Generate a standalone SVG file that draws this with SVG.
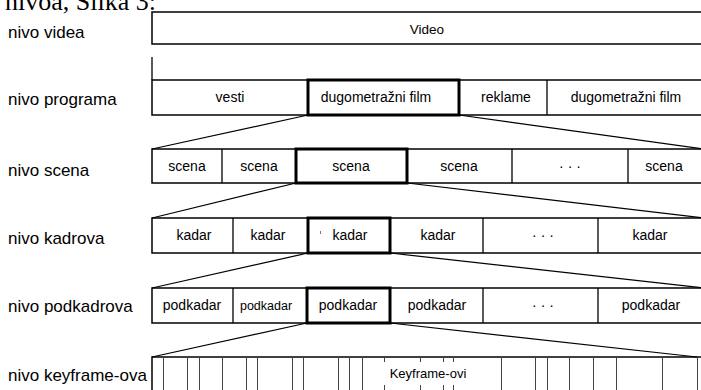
<svg xmlns="http://www.w3.org/2000/svg" width="701" height="390" viewBox="0 0 701 390">
<style>
.lbl{font-family:"Liberation Sans",Arial,sans-serif;font-size:17px;fill:#000}
.cell{font-family:"Liberation Sans",Arial,sans-serif;font-size:14px;fill:#000;text-anchor:middle}
.box{fill:#fff;stroke:#000;stroke-width:1.5}
.div{stroke:#000;stroke-width:1.3}
.thick{fill:none;stroke:#000;stroke-width:3}
.con{stroke:#000;stroke-width:1.2;fill:none}
.kf{stroke:#444;stroke-width:1}
</style>
<rect width="701" height="390" fill="#fff"/>
<text x="5" y="9.5" style="font-family:'Liberation Serif','Times New Roman',serif;font-size:26px">nivoa, Slika 3:</text>

<g id="labels">
<text class="lbl" x="8" y="38">nivo videa</text>
<text class="lbl" x="8" y="105">nivo programa</text>
<text class="lbl" x="8" y="176">nivo scena</text>
<text class="lbl" x="8" y="244">nivo kadrova</text>
<text class="lbl" x="8" y="312">nivo podkadrova</text>
<text class="lbl" x="8" y="381">nivo keyframe-ova</text>
</g>

<g id="video">
<rect class="box" x="152" y="12" width="556" height="32"/>
<text class="cell" x="427" y="34" style="font-size:13.5px">Video</text>
</g>

<g id="programa">
<line class="div" x1="152" y1="57" x2="152" y2="80"/>
<rect class="box" x="152" y="80" width="556" height="35"/>
<line class="div" x1="547" y1="80" x2="547" y2="115"/>
<rect class="thick" x="308" y="80" width="151" height="35"/>
<text class="cell" x="230" y="102">vesti</text>
<text class="cell" x="376" y="102">dugometražni film</text>
<text class="cell" x="506" y="102">reklame</text>
<text class="cell" x="626" y="102">dugometražni film</text>
</g>

<g id="scena">
<rect class="box" x="152" y="149" width="556" height="34"/>
<line class="div" x1="222" y1="149" x2="222" y2="183"/>
<line class="div" x1="512" y1="149" x2="512" y2="183"/>
<line class="div" x1="628" y1="149" x2="628" y2="183"/>
<rect class="thick" x="296" y="149" width="111" height="34"/>
<text class="cell" x="187" y="171">scena</text>
<text class="cell" x="259" y="171">scena</text>
<text class="cell" x="351" y="171">scena</text>
<text class="cell" x="459" y="171">scena</text>
<text class="cell" x="570" y="171">· · ·</text>
<text class="cell" x="664" y="171">scena</text>
</g>

<g id="kadrovi">
<rect class="box" x="152" y="218" width="556" height="35"/>
<line class="div" x1="233" y1="218" x2="233" y2="253"/>
<line class="div" x1="483" y1="218" x2="483" y2="253"/>
<line class="div" x1="598" y1="218" x2="598" y2="253"/>
<rect class="thick" x="308" y="218" width="82" height="35"/>
<line stroke="#777" stroke-width="1" x1="320.5" y1="231" x2="320.5" y2="234"/>
<text class="cell" x="194" y="240">kadar</text>
<text class="cell" x="268" y="240">kadar</text>
<text class="cell" x="350" y="240">kadar</text>
<text class="cell" x="438" y="240">kadar</text>
<text class="cell" x="543" y="240">· · ·</text>
<text class="cell" x="650" y="240">kadar</text>
</g>

<g id="podkadrovi">
<rect class="box" x="152" y="288" width="556" height="35"/>
<line class="div" x1="233" y1="288" x2="233" y2="323"/>
<line class="div" x1="483" y1="288" x2="483" y2="323"/>
<line class="div" x1="598" y1="288" x2="598" y2="323"/>
<rect class="thick" x="307" y="288" width="83" height="35"/>
<text class="cell" x="192" y="310">podkadar</text>
<text class="cell" x="266" y="310" style="font-size:12.5px">podkadar</text>
<text class="cell" x="348" y="310">podkadar</text>
<text class="cell" x="437" y="310">podkadar</text>
<text class="cell" x="543" y="310">· · ·</text>
<text class="cell" x="651" y="310">podkadar</text>
</g>

<g id="keyframes">
<rect class="box" x="152" y="357" width="556" height="40"/>
<g class="kf">
<line x1="163.5" y1="357" x2="163.5" y2="390"/>
<line x1="187.5" y1="357" x2="187.5" y2="390"/>
<line x1="199.5" y1="357" x2="199.5" y2="390"/>
<line x1="222.5" y1="357" x2="222.5" y2="390"/>
<line x1="246.5" y1="357" x2="246.5" y2="390"/>
<line x1="257.5" y1="357" x2="257.5" y2="390"/>
<line x1="292.5" y1="357" x2="292.5" y2="390"/>
<line x1="303.5" y1="357" x2="303.5" y2="390"/>
<line x1="338.5" y1="357" x2="338.5" y2="390"/>
<line x1="349.5" y1="357" x2="349.5" y2="390"/>
<line x1="362.5" y1="357" x2="362.5" y2="390"/>
<line x1="384.5" y1="357" x2="384.5" y2="362"/>
<line x1="384.5" y1="385" x2="384.5" y2="390"/>
<line x1="420.5" y1="357" x2="420.5" y2="362"/>
<line x1="420.5" y1="385" x2="420.5" y2="390"/>
<line x1="443.5" y1="357" x2="443.5" y2="362"/>
<line x1="443.5" y1="385" x2="443.5" y2="390"/>
<line x1="453.5" y1="357" x2="453.5" y2="362"/>
<line x1="453.5" y1="385" x2="453.5" y2="390"/>
<line x1="501.5" y1="357" x2="501.5" y2="390"/>
<line x1="535.5" y1="357" x2="535.5" y2="390"/>
<line x1="547.5" y1="357" x2="547.5" y2="390"/>
<line x1="569.5" y1="357" x2="569.5" y2="390"/>
<line x1="593.5" y1="357" x2="593.5" y2="390"/>
<line x1="616.5" y1="357" x2="616.5" y2="390"/>
<line x1="662.5" y1="357" x2="662.5" y2="390"/>
<line x1="697.5" y1="357" x2="697.5" y2="390"/>
</g>
<text class="cell" x="428" y="378" style="font-size:13px">Keyframe-ovi</text>
</g>

<g id="connectors">
<line class="con" x1="308" y1="115" x2="152" y2="149"/>
<line class="con" x1="459" y1="115" x2="704" y2="149"/>
<line class="con" x1="296" y1="183" x2="152" y2="218"/>
<line class="con" x1="407" y1="183" x2="704" y2="218"/>
<line class="con" x1="308" y1="253" x2="152" y2="288"/>
<line class="con" x1="390" y1="253" x2="704" y2="288"/>
<line class="con" x1="307" y1="323" x2="152" y2="357"/>
<line class="con" x1="390" y1="323" x2="697" y2="357"/>
</g>
</svg>
